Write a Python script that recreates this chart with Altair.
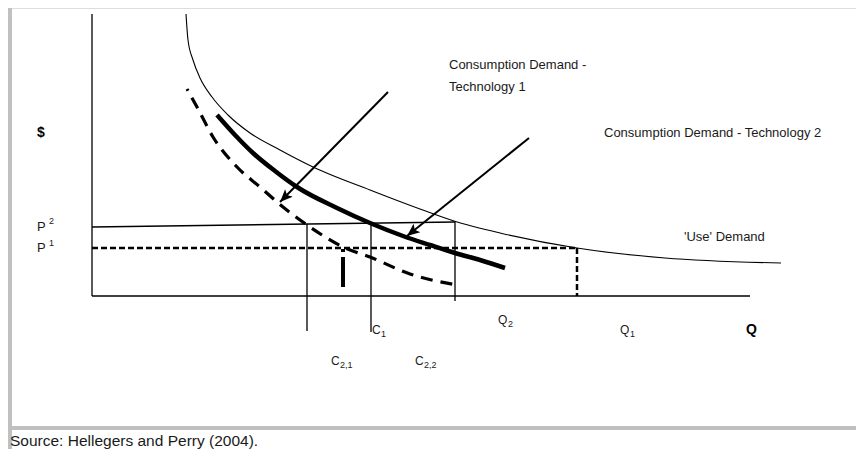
import math
import altair as alt
import pandas as pd

# ---- curve values (Q on x, $ on y) ----
use_q = [94, 96, 101, 108, 120, 136, 158, 188, 221, 278, 328, 362, 408, 485, 573, 689]
use_p = [282, 256, 236, 218, 199, 181, 163, 146, 129, 106, 87, 75, 63, 48, 38, 33]

tech2_q = [125, 143, 161, 183, 205, 245, 278, 311, 338, 363, 388, 413]
tech2_p = [181, 161, 143, 125, 109, 88, 73, 60, 51, 43, 36, 28]

tech1_q = [95, 105, 121, 145, 168, 191, 218, 251, 278, 318, 365]
tech1_p = [207, 189, 159, 129, 109, 89, 69, 49, 39, 22, 11]

# reference levels
P2_start, P2_end = 69, 74
P1 = 48
C21, C1, Q2, Q1 = 215, 279, 363, 485
C2_own = 251

# thin solid segments: axes, P2 line, guide verticals
thin_x = [0, 0, 0, C21, C1, Q2]
thin_y = [0, 0, P2_start, 72, 73, P2_end]
thin_x2 = [0, 658, Q2, C21, C1, Q2]
thin_y2 = [282, 0, P2_end, -35, -36, -5]

# dotted segments: P1 level and Q1 drop
dot_x = [0, Q1]
dot_y = [P1, P1]
dot_x2 = [Q1, Q1]
dot_y2 = [P1, 0]

# arrows: start and tip
arr_x = [296, 437]
arr_y = [204, 158]
arr_x2 = [188, 315]
arr_y2 = [94, 60]

# labels
lab_text = ["P", "2", "P", "1", "Consumption Demand -", "Technology 1",
            "Consumption Demand - Technology 2", "'Use' Demand",
            "Q", "2", "Q", "1", "C", "1", "C", "2,1", "C", "2,2"]
lab_x = [-55, -43, -55, -43, 357, 357, 512, 592, 406, 416, 528, 538, 280, 289, 239, 248, 323, 332]
lab_y = [69, 75, 48, 53, 231, 209, 163, 59, -24, -28, -34, -38, -34, -38, -65, -69, -65, -69]
lab_size = [13, 9, 13, 9, 13, 13, 13, 13, 12, 9, 12, 9, 12, 9, 12, 9, 12, 9]

bold_text = ["$", "Q"]
bold_x = [-55, 654]
bold_y = [163, -34]

source_text = "Source: Hellegers and Perry (2004)."

FONT = "Liberation Sans, Arial"

xs = alt.Scale(domain=[-84, 764], nice=False, zero=False)
ys = alt.Scale(domain=[-153, 288], nice=False, zero=False)
X = lambda f: alt.X(f, type="quantitative", scale=xs, axis=None)
Y = lambda f: alt.Y(f, type="quantitative", scale=ys, axis=None)


def curve(q, p):
    return pd.DataFrame({"q": q, "p": p, "o": list(range(len(q)))})


use_df = curve(use_q, use_p)
t2_df = curve(tech2_q, tech2_p)
t1_df = curve(tech1_q, tech1_p)

line_enc = dict(x=X("q"), y=Y("p"), order=alt.Order("o:Q"))

use_line = alt.Chart(use_df).mark_line(color="black", strokeWidth=1.1, interpolate="monotone").encode(**line_enc)
t2_line = alt.Chart(t2_df).mark_line(color="black", strokeWidth=4.5, interpolate="monotone").encode(**line_enc)
t1_line = alt.Chart(t1_df).mark_line(color="black", strokeWidth=3.2, strokeDash=[12, 8],
                                     strokeDashOffset=10, interpolate="monotone").encode(**line_enc)

seg_df = pd.DataFrame({"x": thin_x, "y": thin_y, "x2": thin_x2, "y2": thin_y2})
segs = alt.Chart(seg_df).mark_rule(color="black", strokeWidth=1.3).encode(
    x=X("x"), y=Y("y"), x2="x2", y2="y2")

dot_df = pd.DataFrame({"x": dot_x, "y": dot_y, "x2": dot_x2, "y2": dot_y2})
dots = alt.Chart(dot_df).mark_rule(color="black", strokeWidth=2.5, strokeDash=[6, 3]).encode(
    x=X("x"), y=Y("y"), x2="x2", y2="y2")

own_df = pd.DataFrame({"x": [C2_own], "y": [P1 - 1], "x2": [C2_own], "y2": [9]})
own = alt.Chart(own_df).mark_rule(color="black", strokeWidth=4, strokeDash=[3, 5, 40, 4]).encode(
    x=X("x"), y=Y("y"), x2="x2", y2="y2")

arr_df = pd.DataFrame({"x": arr_x, "y": arr_y, "x2": arr_x2, "y2": arr_y2})
shafts = alt.Chart(arr_df).mark_rule(color="black", strokeWidth=2).encode(
    x=X("x"), y=Y("y"), x2="x2", y2="y2")

heads = []
for i in range(len(arr_x)):
    dx = arr_x2[i] - arr_x[i]
    dy = arr_y2[i] - arr_y[i]
    ang = math.degrees(math.atan2(dx, dy)) % 360
    hd = pd.DataFrame({"x": [arr_x2[i]], "y": [arr_y2[i]]})
    heads.append(alt.Chart(hd).mark_point(
        shape="M0,0 L-0.42,1 L0,0.78 L0.42,1 Z", filled=True, color="black",
        size=650, angle=ang, opacity=1).encode(x=X("x"), y=Y("y")))

lab_df = pd.DataFrame({"x": lab_x, "y": lab_y, "t": lab_text, "s": lab_size})
labels = alt.Chart(lab_df).mark_text(align="left", baseline="middle", font=FONT, color="#1a1a1a").encode(
    x=X("x"), y=Y("y"), text="t:N", size=alt.Size("s:Q", scale=None))

bold_df = pd.DataFrame({"x": bold_x, "y": bold_y, "t": bold_text})
bolds = alt.Chart(bold_df).mark_text(align="left", baseline="middle", font=FONT, fontSize=14,
                                     fontWeight="bold", color="black").encode(
    x=X("x"), y=Y("y"), text="t:N")

src_df = pd.DataFrame({"x": [-82], "y": [-150], "t": [source_text]})
src = alt.Chart(src_df).mark_text(align="left", baseline="alphabetic", font=FONT, fontSize=15.5,
                                  color="#1a1a1a").encode(x=X("x"), y=Y("y"), text="t:N")

# gray frame pieces
frame_df = pd.DataFrame({"x": [-84, -80], "x2": [-80, 764], "y": [-153, -130], "y2": [288, -134]})
frame = alt.Chart(frame_df).mark_rect(color="#c0c0c0").encode(
    x=X("x"), x2="x2", y=Y("y"), y2="y2")

chart = alt.layer(
    frame, segs, dots, own, use_line, t1_line, t2_line, shafts, *heads, labels, bolds, src
).properties(
    width=848, height=441, padding=0, autosize=alt.AutoSizeParams(type="none")
).configure_view(stroke=None).configure(background="white")

chart.save("out.html", embed_options={"renderer": "svg", "actions": False})
